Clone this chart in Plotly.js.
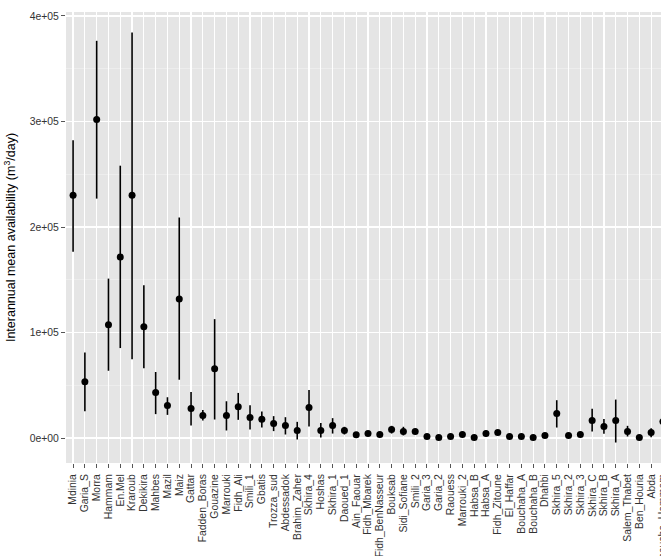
<!DOCTYPE html>
<html>
<head>
<meta charset="utf-8">
<script src="https://cdn.plot.ly/plotly-3.0.1.min.js"></script>
<style>
html,body{margin:0;padding:0;overflow:hidden;background:#fff;}
#chart{width:680px;height:556px;}
</style>
</head>
<body>
<div id="chart"></div>
<script>
const sites = ["Mdinia","Garia_S","Morra","Hammam","En.Mel","Kraroub","Dekikira","Mahbes","Mazil","Maiz",
"Gattar","Fadden_Boras","Gouazine","Marrouki","Fidh_Ali","Smili_1","Gbatis","Trozza_sud","Abdessadok","Brahim_Zaher",
"Skhira_4","Hoshas","Skhira_1","Daoued_1","Ain_Faouar","Fidh_Mbarek","Fidh_BenNasseur","Bouksab","Sidi_Sofiane","Smili_2",
"Garia_3","Garia_2","Raouess","Marrouki_2","Habsa_B","Habsa_A","Fidh_Zitoune","El_Haffar","Bouchaha_A","Bouchaha_B",
"Dhahbi","Skhira_5","Skhira_2","Skhira_3","Skhira_C","Skhira_B","Skhira_A","Salem_Thabet","Ben_Houria","Abda","Choucha_Hammam"];

const meanAvail = [230000,53400,301800,107300,171500,230000,105400,43100,30800,131800,
28000,21300,65700,21300,29800,19500,17900,13800,11900,7200,
28900,7200,11900,7200,3100,4300,3400,8100,6200,6200,
1500,600,1500,3400,600,4300,5300,1500,1500,600,
2500,23200,2500,3400,16600,11000,16600,6200,600,5300,15700];

const lowerAvail = [176600,25500,226900,63800,85300,74600,66100,22700,22000,55300,
11900,16600,17600,7200,17300,8100,10000,6600,3400,-1300,
11000,600,4300,3400,2000,2500,2200,4300,2500,4000,
800,200,700,2000,200,1500,3500,700,800,200,
1200,10000,1500,2000,6200,4100,-4200,1500,200,900,8000];

const upperAvail = [282300,81200,376400,151100,258100,384300,144800,62600,38700,209000,
43700,26700,112700,34900,42800,31200,25100,20800,19800,15400,
45600,14200,18900,10700,4200,6200,4600,11600,10700,8500,
2200,1000,2300,4800,1000,7200,7100,2300,2200,1000,
3800,35900,3500,4800,27700,18200,36500,11600,1000,9400,23000];

const yTickVals = [0,100000,200000,300000,400000];
const yTickText = ["0e+00","1e+05","2e+05","3e+05","4e+05"];

const trace = {
  x: sites,
  y: meanAvail,
  type: "scatter",
  mode: "markers",
  marker: {color: "#000", size: 7},
  error_y: {
    type: "data",
    symmetric: false,
    array: upperAvail.map((u,i)=>u-meanAvail[i]),
    arrayminus: meanAvail.map((m,i)=>m-lowerAvail[i]),
    color: "#000",
    thickness: 1.6,
    width: 0
  },
  hoverinfo: "x+y"
};

const layout = {
  width: 680,
  height: 556,
  margin: {l: 66, r: 10, t: 12, b: 93},
  paper_bgcolor: "#fff",
  plot_bgcolor: "#e5e5e5",
  showlegend: false,
  font: {family: "Liberation Sans, Arial, sans-serif", size: 10.4, color: "#333"},
  xaxis: {
    type: "category",
    categoryorder: "array",
    categoryarray: sites,
    range: [-0.6, sites.length - 0.4],
    tickmode: "array",
    tickvals: sites,
    ticktext: sites,
    tickangle: -90,
    ticks: "outside",
    ticklen: 4,
    tickcolor: "#555",
    tickwidth: 1,
    ticklabelstandoff: 2,
    showgrid: true,
    gridcolor: "#fff",
    gridwidth: 1.2,
    zeroline: false,
    showline: false,
    automargin: false,
    tickfont: {size: 10.4, color: "#333"}
  },
  yaxis: {
    range: [-23600, 403700],
    tickvals: yTickVals,
    ticktext: yTickText,
    ticks: "outside",
    ticklen: 4,
    tickcolor: "#555",
    tickwidth: 1,
    showgrid: true,
    gridcolor: "#fff",
    gridwidth: 1.2,
    minor: {dtick: 50000, tick0: 0, showgrid: true, gridcolor: "#f2f2f2", gridwidth: 0.6, ticks: ""},
    zeroline: false,
    showline: false,
    automargin: false,
    tickfont: {size: 10.4, color: "#333"},
    title: {text: "Interannual mean availability (m<sup>3</sup>/day)", font: {size: 12.5, color: "#000"}, standoff: 11}
  }
};

Plotly.newPlot("chart", [trace], layout, {staticPlot: true, displayModeBar: false});
</script>
</body>
</html>
